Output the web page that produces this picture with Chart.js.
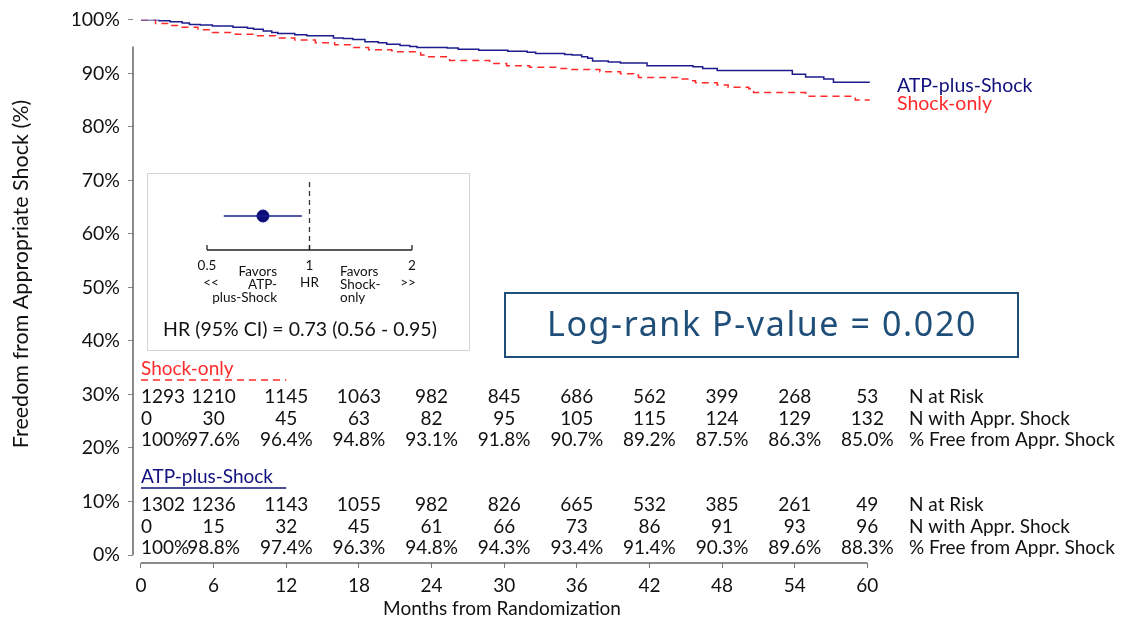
<!DOCTYPE html>
<html>
<head>
<meta charset="utf-8">
<script src="https://cdn.jsdelivr.net/npm/chart.js@4"></script>
<style>
  body { margin: 0; background: #fff; }
  #wrap { position: relative; width: 1127px; height: 620px; }
  #main { position: absolute; left: 0; top: 0; }
  #inset { position: absolute; left: 147px; top: 173px; width: 321px; height: 176px;
           border: 1px solid #d4d4d4; background: #fff; }
</style>
</head>
<body>
<div id="wrap">
  <canvas id="main" width="1127" height="620"></canvas>
  <div id="inset"><canvas id="forest" width="321" height="176"></canvas></div>
</div>
<script>
// Kaplan-Meier curves (month, % free from appropriate shock)
const atpMonths = [0, 1.5, 2.4, 3.4, 4.0, 4.9, 5.9, 7.6, 8.8, 9.3, 10.1, 10.8, 11.3, 12.7, 13.7, 15.9, 16.7, 17.5,
  18.5, 19.6, 20.3, 21.4, 22.2, 22.8, 25.3, 26.2, 27.9, 30.3, 31.9, 32.6, 35.0, 35.6, 36.4, 36.9, 37.3, 38.6,
  39.6, 41.8, 45.6, 46.4, 47.6, 53.8, 54.9, 56.4, 57.2, 60.2];
const atpSurv = [100, 99.8, 99.6, 99.4, 99.1, 99.0, 98.8, 98.6, 98.4, 98.2, 97.9, 97.6, 97.4, 97.2, 97.0, 96.6, 96.5, 96.3,
  95.9, 95.7, 95.4, 95.2, 95.0, 94.8, 94.7, 94.5, 94.3, 94.1, 93.9, 93.7, 93.5, 93.4, 93.1, 92.8, 92.3, 92.1,
  91.9, 91.4, 91.2, 90.9, 90.5, 89.8, 89.3, 88.9, 88.3, 88.3];

const shockMonths = [0, 1.2, 2.2, 3.4, 4.7, 5.9, 7.8, 9.4, 11.1, 12.7, 14.4, 16.0, 17.4, 18.8, 20.7, 21.2, 23.1, 23.6,
  25.5, 28.8, 30.2, 32.1, 34.4, 35.5, 37.9, 39.6, 40.7, 41.1, 44.7, 45.4, 45.8, 47.6, 48.5, 50.2, 50.6, 54.9,
  59.0, 60.2];
const shockSurv = [100, 99.3, 98.9, 98.6, 98.1, 97.6, 97.3, 97.0, 96.6, 96.2, 95.7, 95.3, 94.8, 94.4, 94.2, 94.0, 93.4, 93.1,
  92.4, 91.8, 91.4, 91.1, 90.9, 90.7, 90.3, 89.9, 89.6, 89.2, 88.9, 88.6, 88.2, 87.8, 87.4, 87.1, 86.4, 85.7,
  85.0, 85.0];

// axis ticks
const xTicks = [0, 6, 12, 18, 24, 30, 36, 42, 48, 54, 60];
const yTicks = [0, 10, 20, 30, 40, 50, 60, 70, 80, 90, 100];

// risk tables
const riskMonths = [0, 6, 12, 18, 24, 30, 36, 42, 48, 54, 60];
const shockAtRisk = [1293, 1210, 1145, 1063, 982, 845, 686, 562, 399, 268, 53];
const shockEvents = [0, 30, 45, 63, 82, 95, 105, 115, 124, 129, 132];
const shockFree = [100, 97.6, 96.4, 94.8, 93.1, 91.8, 90.7, 89.2, 87.5, 86.3, 85.0];
const atpAtRisk = [1302, 1236, 1143, 1055, 982, 826, 665, 532, 385, 261, 49];
const atpEvents = [0, 15, 32, 45, 61, 66, 73, 86, 91, 93, 96];
const atpFree = [100, 98.8, 97.4, 96.3, 94.8, 94.3, 93.4, 91.4, 90.3, 89.6, 88.3];
const rowLabels = ['N at Risk', 'N with Appr. Shock', '% Free from Appr. Shock'];

// hazard ratio inset
const hr = 0.73;
const ciLow = 0.56;
const ciHigh = 0.95;
const hrTicks = [0.5, 1, 2];

const FONT = "Lato, 'Open Sans', sans-serif";
const BLUE = '#1c1c8c';
const NAVY_TXT = '#10107e';
const RED = '#ff2a2a';
const TXT = '#111';

const fmtPct = v => (v === 100 ? '100%' : v.toFixed(1) + '%');
const toXY = (xs, ys) => xs.map((m, i) => ({ x: m, y: ys[i] }));

const overlay = {
  id: 'overlay',
  afterDraw(chart) {
    const { ctx, chartArea } = chart;
    const xs = chart.scales.x, ys = chart.scales.y;
    ctx.save();

    // detached axis lines
    ctx.strokeStyle = '#666';
    ctx.lineWidth = 1.5;
    ctx.beginPath();
    ctx.moveTo(chartArea.left, ys.getPixelForValue(95));
    ctx.lineTo(chartArea.left, ys.getPixelForValue(0));
    ctx.moveTo(xs.getPixelForValue(0), chartArea.bottom);
    ctx.lineTo(xs.getPixelForValue(60), chartArea.bottom);
    ctx.stroke();

    // y title
    ctx.fillStyle = TXT;
    ctx.font = '21.5px ' + FONT;
    ctx.textAlign = 'center';
    ctx.textBaseline = 'middle';
    ctx.save();
    ctx.translate(21, 274);
    ctx.rotate(-Math.PI / 2);
    ctx.fillText('Freedom from Appropriate Shock (%)', 0, 0);
    ctx.restore();

    // end labels
    ctx.font = '19.5px ' + FONT;
    ctx.textAlign = 'left';
    ctx.fillStyle = NAVY_TXT;
    ctx.fillText('ATP-plus-Shock', 897, 86);
    ctx.fillStyle = RED;
    ctx.fillText('Shock-only', 897, 104);

    // risk tables
    const drawGroup = (title, color, dashed, headY, rowsY, rows) => {
      ctx.font = '19px ' + FONT;
      ctx.textAlign = 'left';
      ctx.fillStyle = color;
      ctx.fillText(title, xs.getPixelForValue(0), headY);
      ctx.strokeStyle = color;
      ctx.lineWidth = 1.3;
      ctx.setLineDash(dashed ? [7, 5] : []);
      ctx.beginPath();
      ctx.moveTo(xs.getPixelForValue(0), headY + 11);
      ctx.lineTo(xs.getPixelForValue(12), headY + 11);
      ctx.stroke();
      ctx.setLineDash([]);
      ctx.fillStyle = TXT;
      rows.forEach((row, r) => {
        const y = rowsY + r * 21.5;
        row.forEach((val, i) => {
          const px = xs.getPixelForValue(riskMonths[i]);
          ctx.textAlign = i === 0 ? 'left' : 'center';
          ctx.fillText(val, px, y);
        });
        ctx.textAlign = 'left';
        ctx.fillText(rowLabels[r], 909, y);
      });
    };
    drawGroup('Shock-only', RED, true, 369, 397,
      [shockAtRisk.map(String), shockEvents.map(String), shockFree.map(fmtPct)]);
    drawGroup('ATP-plus-Shock', NAVY_TXT, false, 477, 505,
      [atpAtRisk.map(String), atpEvents.map(String), atpFree.map(fmtPct)]);

    // log-rank box
    ctx.strokeStyle = '#1f4e79';
    ctx.lineWidth = 2;
    ctx.strokeRect(505, 293, 513, 64);
    ctx.fillStyle = '#1f4e79';
    ctx.font = "34px 'Noto Sans', sans-serif";
    ctx.letterSpacing = '1.6px';
    ctx.textAlign = 'center';
    ctx.fillText('Log-rank P-value = 0.020', 762, 326);
    ctx.letterSpacing = '0px';

    ctx.restore();
  }
};

new Chart(document.getElementById('main'), {
  type: 'line',
  data: {
    datasets: [
      { label: 'ATP-plus-Shock', data: toXY(atpMonths, atpSurv), borderColor: BLUE, borderWidth: 1.5,
        stepped: true, pointRadius: 0, fill: false },
      { label: 'Shock-only', data: toXY(shockMonths, shockSurv), borderColor: RED, borderWidth: 1.5,
        borderDash: [7, 5], stepped: true, pointRadius: 0, fill: false }
    ]
  },
  options: {
    responsive: false,
    animation: false,
    devicePixelRatio: 1,
    layout: { padding: { top: 17, left: 73, right: 256, bottom: 0 } },
    plugins: { legend: { display: false }, tooltip: { enabled: false } },
    scales: {
      x: {
        type: 'linear', min: -0.66, max: 60.3,
        afterBuildTicks: s => { s.ticks = xTicks.map(v => ({ value: v })); },
        afterFit: s => { s.height = 57; },
        grid: { drawOnChartArea: false, drawTicks: true, tickLength: 5, color: '#777' },
        border: { display: false },
        ticks: { font: { family: FONT, size: 19 }, color: TXT, padding: 6, maxRotation: 0, autoSkip: false },
        title: { display: true, text: 'Months from Randomization', font: { family: FONT, size: 19 },
                 color: TXT, padding: { top: 0, bottom: 0 } }
      },
      y: {
        type: 'linear', min: -1.49, max: 100,
        afterBuildTicks: s => { s.ticks = yTicks.map(v => ({ value: v })); },
        afterFit: s => { s.width = 60; },
        grid: { drawOnChartArea: false, drawTicks: true, tickLength: 5, color: '#888' },
        border: { display: false },
        ticks: { font: { family: FONT, size: 19.5 }, color: TXT, padding: 8, callback: v => v + '%' }
      }
    }
  },
  plugins: [overlay]
});

// inset: hazard ratio with 95% CI on a log axis
const forestLabels = {
  id: 'forestLabels',
  afterDraw(chart) {
    const { ctx, chartArea } = chart;
    const xs = chart.scales.x;
    const base = chartArea.bottom;
    ctx.save();
    ctx.strokeStyle = '#222';
    ctx.lineWidth = 1.3;
    ctx.beginPath();
    ctx.moveTo(xs.getPixelForValue(hrTicks[0]), base);
    ctx.lineTo(xs.getPixelForValue(hrTicks[hrTicks.length - 1]), base);
    hrTicks.forEach(t => {
      const px = xs.getPixelForValue(t);
      ctx.moveTo(px, base - 5);
      ctx.lineTo(px, base);
    });
    ctx.stroke();

    ctx.fillStyle = TXT;
    ctx.font = '13.5px ' + FONT;
    ctx.textBaseline = 'middle';
    ctx.textAlign = 'center';
    hrTicks.forEach(t => ctx.fillText(String(t), xs.getPixelForValue(t), base + 16));
    ctx.fillText('<<', xs.getPixelForValue(0.5) + 4, base + 33);
    ctx.fillText('>>', xs.getPixelForValue(2) - 4, base + 33);
    ctx.fillText('HR', xs.getPixelForValue(1), base + 33);
    ctx.textAlign = 'right';
    ['Favors', 'ATP-', 'plus-Shock'].forEach((s, i) => ctx.fillText(s, 129, base + 22 + i * 13));
    ctx.textAlign = 'left';
    ['Favors', 'Shock-', 'only'].forEach((s, i) => ctx.fillText(s, 192, base + 22 + i * 13));

    ctx.font = '19.5px ' + FONT;
    ctx.textAlign = 'center';
    ctx.fillText('HR (95% CI) = ' + hr.toFixed(2) + ' (' + ciLow.toFixed(2) + ' - ' + ciHigh.toFixed(2) + ')', 152, 156);
    ctx.restore();
  }
};

new Chart(document.getElementById('forest'), {
  type: 'line',
  data: {
    datasets: [
      { data: [{ x: 1, y: 0 }, { x: 1, y: 1 }], borderColor: '#333', borderWidth: 1.3, borderDash: [5, 4], pointRadius: 0 },
      { data: [{ x: ciLow, y: 0.5 }, { x: ciHigh, y: 0.5 }], borderColor: BLUE, borderWidth: 1.5, pointRadius: 0 },
      { data: [{ x: hr, y: 0.5 }], showLine: false, pointRadius: 6, backgroundColor: '#0a0a78', borderColor: '#0a0a78' }
    ]
  },
  options: {
    responsive: false,
    animation: false,
    devicePixelRatio: 1,
    layout: { padding: { top: 8, left: 59, right: 57, bottom: 100 } },
    plugins: { legend: { display: false }, tooltip: { enabled: false } },
    scales: {
      x: { type: 'logarithmic', min: 0.5, max: 2, display: false },
      y: { type: 'linear', min: 0, max: 1, display: false }
    }
  },
  plugins: [forestLabels]
});
</script>
</body>
</html>
